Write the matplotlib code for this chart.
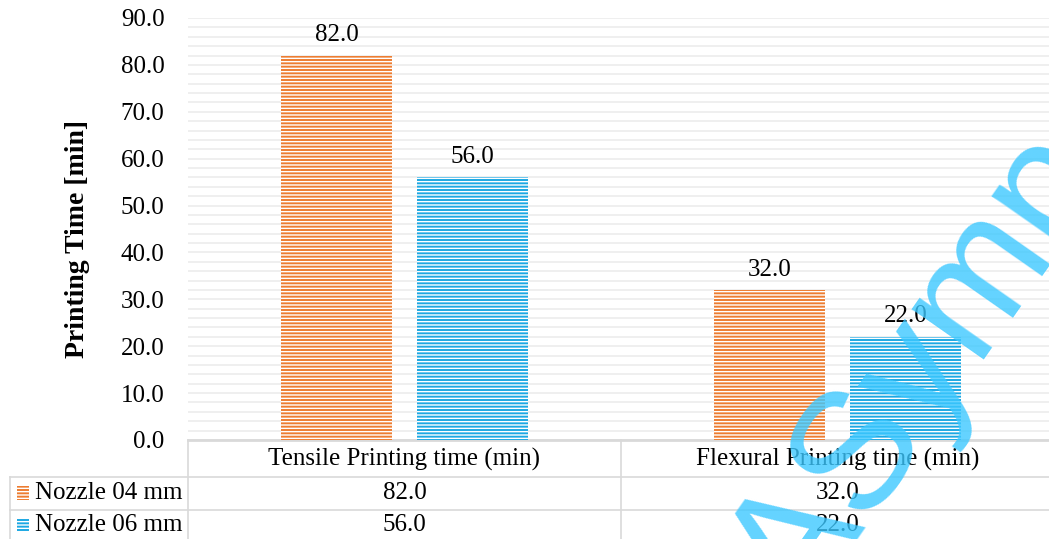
import numpy as np
import matplotlib.pyplot as plt
from matplotlib.patches import Rectangle
from matplotlib.lines import Line2D
from matplotlib.transforms import blended_transform_factory

categories = ['Tensile Printing time (min)', 'Flexural Printing time (min)']
series_names = ['Nozzle 04 mm', 'Nozzle 06 mm']
nozzle_04 = [82.0, 32.0]
nozzle_06 = [56.0, 22.0]
colors = ['#ED7D31', '#1CA8E3']

plt.rcParams['font.family'] = 'Liberation Serif'
plt.rcParams['hatch.linewidth'] = 1.0

W, H = 1049, 539
fs = 18
fig = plt.figure(figsize=(W / 100, H / 100), dpi=100)
ax = fig.add_axes([188 / W, 99 / H, 866 / W, 422 / H])

x = np.arange(len(categories))
bw = 0.257
off = 0.157
series = [nozzle_04, nozzle_06]
for i, vals in enumerate(series):
    pos = x + (i * 2 - 1) * off
    ax.bar(pos, vals, bw, color=colors[i], edgecolor='white', linewidth=0,
           hatch='-----', zorder=3)
    for p, v in zip(pos, vals):
        ax.text(p, v + 2.0, '{:.1f}'.format(v), ha='center', va='bottom',
                fontsize=fs, zorder=4)

ax.set_xlim(-0.5, len(categories) - 0.5)
ax.set_ylim(0, 90)
ax.set_yticks(np.arange(0, 91, 10))
ax.set_yticks(np.arange(0, 91, 2), minor=True)
ax.set_yticklabels(['{:.1f}'.format(t) for t in np.arange(0, 91, 10)])
ax.tick_params(axis='y', which='both', length=0, labelsize=fs, pad=17)
ax.set_xticks([])
ax.grid(axis='y', which='both', color='#EEEEEE', lw=1.3, zorder=0)
for s in ['top', 'right', 'left']:
    ax.spines[s].set_visible(False)
ax.spines['bottom'].set_color('#D9D9D9')
ax.spines['bottom'].set_linewidth(2)

fig.text(78 / W, 1 - 239 / H, 'Printing Time [min]', rotation=90,
         ha='center', va='center', fontsize=20, fontweight='bold')

# data table under the plot
tr = blended_transform_factory(ax.transData, fig.transFigure)
fy = lambda py: 1 - py / H
line_kw = dict(color='#D9D9D9', lw=1.2)
for b in np.arange(-0.5, len(categories), 1.0):
    fig.add_artist(Line2D([b, b], [fy(440), fy(539)], transform=tr, **line_kw))
for py in [477, 510]:
    fig.add_artist(Line2D([10 / W, 1], [fy(py), fy(py)], transform=fig.transFigure, **line_kw))
fig.add_artist(Line2D([10 / W, 10 / W], [fy(477), fy(539)], transform=fig.transFigure, **line_kw))

for xi, cat in zip(x, categories):
    fig.text(xi, fy(459), cat, transform=tr, ha='center', va='center', fontsize=fs)
rows_y = [493, 525]
for i, (name, vals) in enumerate(zip(series_names, series)):
    fig.add_artist(Rectangle((17 / W, fy(rows_y[i] + 7)), 12 / W, 14 / H,
                             transform=fig.transFigure, facecolor=colors[i],
                             edgecolor='white', linewidth=0, hatch='-----'))
    fig.text(35 / W, fy(rows_y[i]), name, ha='left', va='center', fontsize=fs)
    for xi, v in zip(x, vals):
        fig.text(xi, fy(rows_y[i]), '{:.1f}'.format(v), transform=tr,
                 ha='center', va='center', fontsize=fs)

fig.text(803 / W, fy(618), 'ASymposium', rotation=55, rotation_mode='anchor',
         ha='left', va='baseline', fontsize=120, color='#3CC8FF', alpha=0.8,
         family='Liberation Sans', zorder=10)

fig.savefig('out.png', dpi=100)
